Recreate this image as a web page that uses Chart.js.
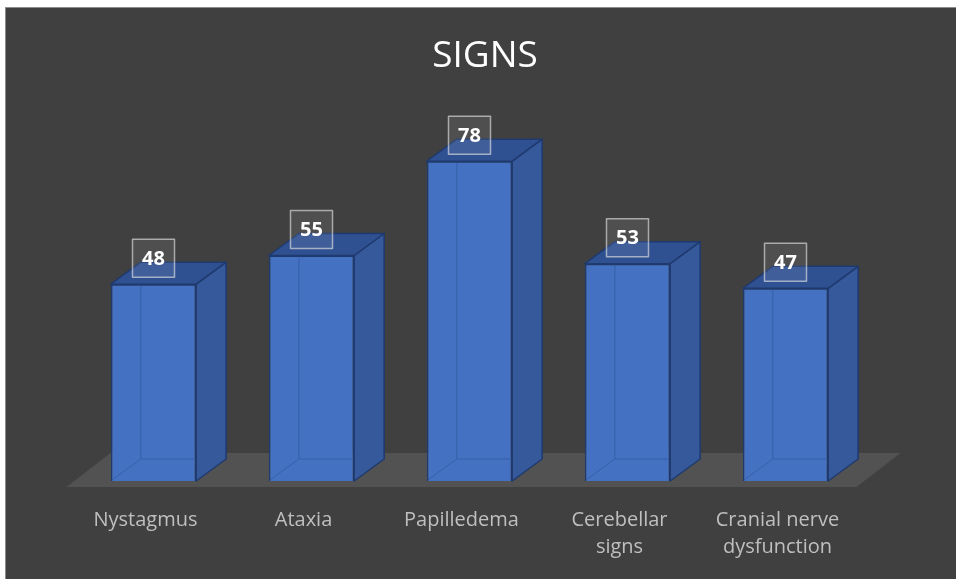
<!DOCTYPE html>
<html lang="en">
<head>
    <meta charset="UTF-8">
    <title>Signs</title>
    <style>
        body {
            margin: 0;
            background: #ffffff;
        }
        .frame {
            position: absolute;
            left: 5px;
            top: 7px;
            width: 950px;
            height: 571px;
            background: #404040;
            border-left: 1px solid #8c8c8c;
            border-top: 1px solid #8c8c8c;
        }
        canvas {
            display: block;
        }
    </style>
</head>
<body>
    <div class="frame">
        <canvas id="signs-chart" width="950" height="571"></canvas>
    </div>
    <script src="https://cdn.jsdelivr.net/npm/chart.js"></script>
    <script>
        const chartTitle = 'SIGNS';
        const categories = ['Nystagmus', 'Ataxia', 'Papilledema', ['Cerebellar', 'signs'], ['Cranial nerve', 'dysfunction']];
        const counts = [48, 55, 78, 53, 47];

        // depth of the fake 3d boxes
        const DX = 30, DY = 22;

        // title sits centred on the whole frame, not the plot
        const frameTitle = {
            id: 'frameTitle',
            afterDraw(chart) {
                const ctx = chart.ctx;
                ctx.save();
                ctx.fillStyle = '#ffffff';
                ctx.font = '37px "Open Sans"';
                ctx.textAlign = 'center';
                ctx.textBaseline = 'middle';
                ctx.fillText(chartTitle, chart.width / 2 + 4, 48);
                ctx.restore();
            }
        };

        const bars3d = {
            id: 'bars3d',
            beforeDatasetsDraw(chart) {
                const ctx = chart.ctx;
                const a = chart.chartArea;
                // floor
                const fx = a.left - 8, fy = a.bottom + 6;
                ctx.save();
                ctx.fillStyle = '#525252';
                ctx.beginPath();
                ctx.moveTo(fx, fy);
                ctx.lineTo(a.right - 8, fy);
                ctx.lineTo(a.right + 36, fy - 34);
                ctx.lineTo(fx + 44, fy - 34);
                ctx.closePath();
                ctx.fill();
                ctx.restore();
            },
            afterDatasetsDraw(chart) {
                const ctx = chart.ctx;
                const meta = chart.getDatasetMeta(0);
                ctx.save();
                meta.data.forEach((bar, i) => {
                    const p = bar.getProps(['x', 'y', 'base', 'width'], true);
                    const l = p.x - p.width / 2, r = p.x + p.width / 2;
                    const t = p.y, b = p.base;

                    ctx.lineWidth = 1.5;
                    ctx.strokeStyle = '#1f3a6e';
                    ctx.lineJoin = 'round';

                    // side
                    ctx.fillStyle = '#35599b';
                    ctx.beginPath();
                    ctx.moveTo(r, t);
                    ctx.lineTo(r + DX, t - DY);
                    ctx.lineTo(r + DX, b - DY);
                    ctx.lineTo(r, b);
                    ctx.closePath();
                    ctx.fill();
                    ctx.stroke();

                    // top
                    ctx.fillStyle = '#2f5192';
                    ctx.beginPath();
                    ctx.moveTo(l, t);
                    ctx.lineTo(l + DX, t - DY);
                    ctx.lineTo(r + DX, t - DY);
                    ctx.lineTo(r, t);
                    ctx.closePath();
                    ctx.fill();
                    ctx.stroke();

                    // hidden edges showing through the front
                    ctx.strokeStyle = 'rgba(40, 75, 140, 0.45)';
                    ctx.lineWidth = 1;
                    ctx.beginPath();
                    ctx.moveTo(l + 1, b - 1);
                    ctx.lineTo(l + DX, b - DY);
                    ctx.lineTo(r, b - DY);
                    ctx.moveTo(l + DX, b - DY);
                    ctx.lineTo(l + DX, t);
                    ctx.stroke();

                    // value label
                    const bw = 42, bh = 38;
                    const cy = t - 26;
                    ctx.fillStyle = 'rgba(255, 255, 255, 0.08)';
                    ctx.fillRect(p.x - bw / 2, cy - bh / 2, bw, bh);
                    ctx.strokeStyle = 'rgba(225, 225, 225, 0.65)';
                    ctx.lineWidth = 1.5;
                    ctx.strokeRect(p.x - bw / 2, cy - bh / 2, bw, bh);
                    ctx.fillStyle = '#ffffff';
                    ctx.font = 'bold 20px "Open Sans"';
                    ctx.textAlign = 'center';
                    ctx.textBaseline = 'middle';
                    ctx.fillText(String(counts[i]), p.x, cy + 1);
                });
                ctx.restore();
            }
        };

        new Chart(document.getElementById('signs-chart'), {
            type: 'bar',
            data: {
                labels: categories,
                datasets: [{
                    data: counts,
                    backgroundColor: '#4471c1',
                    borderColor: '#1f3a6e',
                    borderWidth: 1.5,
                    barPercentage: 0.54,
                    categoryPercentage: 1
                }]
            },
            options: {
                responsive: false,
                animation: false,
                devicePixelRatio: 1,
                layout: {
                    padding: { left: 68.5, right: 91.5, top: 104, bottom: -8 }
                },
                plugins: {
                    legend: { display: false },
                    tooltip: { enabled: false },
                    title: { display: false }
                },
                scales: {
                    x: {
                        grid: { display: false, drawTicks: false },
                        border: { display: false },
                        ticks: {
                            color: '#bfbfbf',
                            font: { family: 'Open Sans', size: 20, lineHeight: 1.35 },
                            padding: 26,
                            labelOffset: -8,
                            maxRotation: 0
                        }
                    },
                    y: {
                        display: false,
                        min: 0,
                        max: 90
                    }
                }
            },
            plugins: [bars3d, frameTitle]
        });
    </script>
</body>
</html>
